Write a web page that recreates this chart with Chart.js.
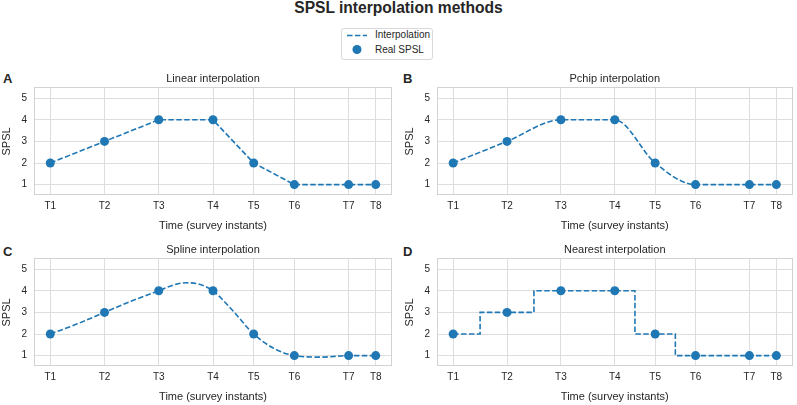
<!DOCTYPE html>
<html>
<head>
<meta charset="utf-8">
<script src="https://cdn.jsdelivr.net/npm/chart.js@4.4.0/dist/chart.umd.min.js"></script>
<style>
  body { margin: 0; background: #fff; font-family: "Liberation Sans", Arial, sans-serif; color: #262626; }
  #fig { position: relative; width: 797px; height: 405px; overflow: hidden; }
  canvas { position: absolute; }
  .letter { position: absolute; font-weight: bold; font-size: 13px; line-height: 13px; }
  #suptitle { position: absolute; left: 0; top: -1px; width: 797px; text-align: center; font-weight: bold; font-size: 15.6px; line-height: 18px; }
  #legend { position: absolute; left: 341px; top: 28px; width: 90px; height: 30px; border: 1px solid #d9d9d9; border-radius: 3px; font-size: 10px; }
  #legend span { position: absolute; left: 33px; line-height: 12px; }
  #legend svg { position: absolute; left: 0; top: 0; }
</style>
</head>
<body>
<div id="fig">
  <div id="suptitle">SPSL interpolation methods</div>
  <div id="legend">
    <svg width="30" height="30">
      <line x1="5" y1="6.5" x2="25" y2="6.5" stroke="#1f77b4" stroke-width="1.5" stroke-dasharray="5.5 2.4"/>
      <circle cx="15" cy="20.5" r="4.5" fill="#1f77b4"/>
    </svg>
    <span style="top:0px">Interpolation</span>
    <span style="top:14.5px">Real SPSL</span>
  </div>
  <div class="letter" style="left:3px; top:72px">A</div>
  <div class="letter" style="left:403px; top:72px">B</div>
  <div class="letter" style="left:3px; top:245px">C</div>
  <div class="letter" style="left:403px; top:245px">D</div>
  <canvas id="chartA" width="397" height="170" style="left:0; top:65px"></canvas>
  <canvas id="chartB" width="394" height="170" style="left:403px; top:65px"></canvas>
  <canvas id="chartC" width="397" height="170" style="left:0; top:236px"></canvas>
  <canvas id="chartD" width="394" height="170" style="left:403px; top:236px"></canvas>
</div>
<script>
const timeLabels = ['T1', 'T2', 'T3', 'T4', 'T5', 'T6', 'T7', 'T8'];
const timeValues = [0, 4, 8, 12, 15, 18, 22, 24];
const realSpsl = [2, 3, 4, 4, 2, 1, 1, 1];
// spline curve
const splineTimes = [0, 2, 4, 6, 8, 9, 10, 11, 12, 13.5, 15, 16.5, 18, 20, 22, 24];
const splineSpsl = [2, 2.47, 3, 3.53, 4, 4.25, 4.37, 4.3, 4, 3.05, 2, 1.33, 1, 0.93, 1, 1];
const spslTicks = [1, 2, 3, 4, 5];

const blue = '#1f77b4';
const gridColor = '#dedede';
const textColor = '#262626';

const frame = {
  id: 'frame',
  beforeDatasetsDraw(chart) {
    const a = chart.chartArea, ctx = chart.ctx;
    ctx.save();
    ctx.strokeStyle = '#d2d2d2';
    ctx.lineWidth = 1;
    ctx.strokeRect(Math.round(a.left) + 0.5, Math.round(a.top) + 0.5,
      Math.round(a.right - a.left) - 1, Math.round(a.bottom - a.top) - 1);
    ctx.restore();
  }
};

function toPoints(xs, ys) {
  return xs.map((x, i) => ({ x: x, y: ys[i] }));
}

function makeChart(id, title, lineXs, lineYs, lineOpts, padRight) {
  new Chart(document.getElementById(id), {
    type: 'line',
    data: {
      datasets: [{
        label: 'Real SPSL',
        data: toPoints(timeValues, realSpsl),
        showLine: false,
        pointRadius: 4.5,
        pointBorderWidth: 0,
        pointBackgroundColor: blue,
        borderColor: blue
      }, Object.assign({
        label: 'Interpolation',
        data: toPoints(lineXs, lineYs),
        borderColor: blue,
        borderWidth: 1.6,
        borderDash: [5.5, 2.4],
        pointRadius: 0,
        fill: false
      }, lineOpts)]
    },
    options: {
      responsive: false,
      devicePixelRatio: 1,
      animation: false,
      layout: { padding: { left: 0, right: padRight, top: 0, bottom: 0 } },
      plugins: {
        legend: { display: false },
        tooltip: { enabled: false },
        title: {
          display: true,
          text: title,
          fullSize: false,
          color: textColor,
          font: { family: 'Liberation Sans', size: 11, weight: 'normal' },
          padding: { top: 7, bottom: 2.2 }
        }
      },
      scales: {
        x: {
          type: 'linear',
          min: -1.2,
          max: 25.2,
          afterBuildTicks: (axis) => { axis.ticks = timeValues.map(v => ({ value: v })); },
          afterFit: (axis) => { axis.height = 39.6; },
          ticks: {
            callback: (v) => timeLabels[timeValues.indexOf(v)],
            color: textColor,
            font: { family: 'Liberation Sans', size: 10 },
            padding: 4.5,
            maxRotation: 0,
            autoSkip: false
          },
          grid: { color: gridColor, drawTicks: false },
          border: { display: false },
          title: {
            display: true,
            text: 'Time (survey instants)',
            color: textColor,
            font: { family: 'Liberation Sans', size: 11 },
            padding: { top: 0, bottom: 2.5 }
          }
        },
        y: {
          min: 0.5,
          max: 5.5,
          afterBuildTicks: (axis) => { axis.ticks = spslTicks.map(v => ({ value: v })); },
          afterFit: (axis) => { axis.width = 34; },
          ticks: {
            color: textColor,
            font: { family: 'Liberation Sans', size: 10 },
            padding: 7
          },
          grid: { color: gridColor, drawTicks: false },
          border: { display: false },
          title: {
            display: true,
            text: 'SPSL',
            color: textColor,
            font: { family: 'Liberation Sans', size: 11 },
            padding: { top: 0, bottom: 0 }
          }
        }
      }
    },
    plugins: [frame]
  });
}

makeChart('chartA', 'Linear interpolation', timeValues, realSpsl, { tension: 0 }, 5);
makeChart('chartB', 'Pchip interpolation', timeValues, realSpsl, { cubicInterpolationMode: 'monotone' }, 2);
makeChart('chartC', 'Spline interpolation', splineTimes, splineSpsl, { cubicInterpolationMode: 'monotone' }, 5);
makeChart('chartD', 'Nearest interpolation', timeValues, realSpsl, { stepped: 'middle' }, 2);
</script>
</body>
</html>
